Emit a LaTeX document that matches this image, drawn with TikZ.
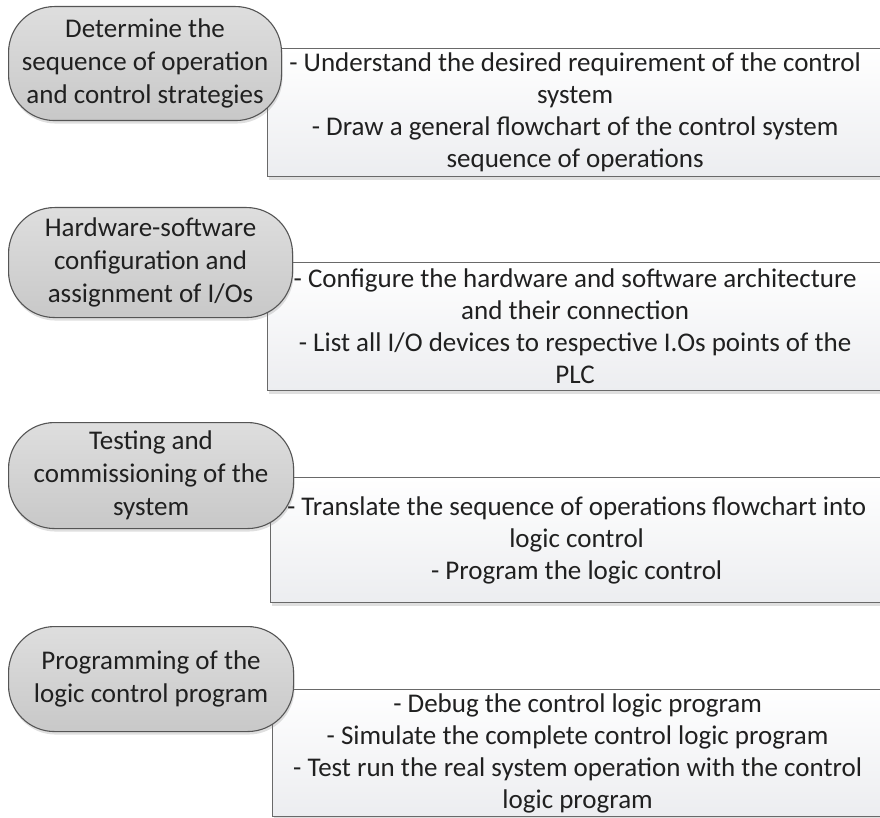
\documentclass[tikz,border=0pt]{standalone}
\usepackage{fontspec}
\setmainfont{Carlito}
\usetikzlibrary{shadows}

\definecolor{stageline}{RGB}{85,85,85}
\definecolor{stagetop}{RGB}{222,222,222}
\definecolor{stagebottom}{RGB}{200,200,200}
\definecolor{taskline}{RGB}{105,105,105}
\definecolor{taskbottom}{RGB}{236,237,240}
\definecolor{inkgray}{RGB}{32,32,32}

\tikzset{
  stage/.style={draw=stageline, line width=1.1pt, rounded corners=46pt,
    top color=stagetop, bottom color=stagebottom, text=inkgray,
    align=center, inner sep=0pt, anchor=north west,
    font=\fontsize{27}{33}\selectfont,
    drop shadow={shadow xshift=1pt, shadow yshift=-3pt, opacity=0.25}},
  task/.style={draw=taskline, line width=1.2pt,
    top color=white, bottom color=taskbottom, text=inkgray,
    align=center, inner sep=0pt, anchor=north west,
    font=\fontsize{27}{32}\selectfont,
    drop shadow={shadow xshift=1pt, shadow yshift=-3pt, opacity=0.25}}
}

\begin{document}
\begin{tikzpicture}[x=1pt, y=-1pt]
  \useasboundingbox (0,0) rectangle (880,818);

  % task boxes (behind the stages)
  \node[task, minimum width=615pt, minimum height=128pt] (task1) at (267,48)
    {- Understand the desired requirement of the control\\ system\\
     - Draw a general flowchart of the control system\\ sequence of operations};
  \node[task, minimum width=615pt, minimum height=128pt] (task2) at (267,262)
    {- Configure the hardware and software architecture\\ and their connection\\
     - List all I/O devices to respective I.Os points of the\\ PLC};
  \node[task, minimum width=612pt, minimum height=125pt] (task3) at (270,477)
    {- Translate the sequence of operations flowchart into\\ logic control\\
     - Program the logic control};
  \node[task, minimum width=610pt, minimum height=127pt] (task4) at (272,689)
    {- Debug the control logic program\\ - Simulate the complete control logic program\\
     - Test run the real system operation with the control\\ logic program};

  % stages
  \node[stage, minimum width=273pt, minimum height=114pt] (stage1) at (8,6)
    {Determine the\\ sequence of operation\\ and control strategies};
  \node[stage, minimum width=284pt, minimum height=110pt] (stage2) at (8,207)
    {Hardware-software\\ configuration and\\ assignment of I/Os};
  \node[stage, minimum width=285pt, minimum height=106pt] (stage3) at (8,422)
    {Testing and\\ commissioning of the\\ system};
  \node[stage, minimum width=285pt, minimum height=105pt] (stage4) at (8,626)
    {Programming of the\\ logic control program};
\end{tikzpicture}
\end{document}
